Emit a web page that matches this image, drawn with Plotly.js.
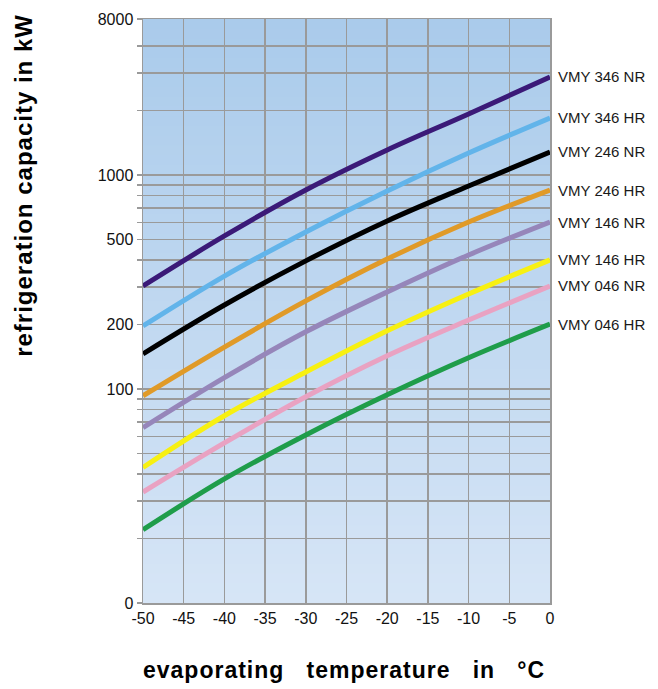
<!DOCTYPE html>
<html>
<head>
<meta charset="utf-8">
<script src="https://cdn.plot.ly/plotly-3.0.1.min.js"></script>
<style>html,body{margin:0;padding:0;background:#fff;}#chart{width:658px;height:689px;}</style>
</head>
<body>
<div id="chart"></div>
<script>
// ---- data ----
const temps = [-50, -40, -30, -20, -10, 0];
const seriesNames = ["VMY 346 NR", "VMY 346 HR", "VMY 246 NR", "VMY 246 HR",
                     "VMY 146 NR", "VMY 146 HR", "VMY 046 NR", "VMY 046 HR"];
const vmy346NR = [303, 519, 851, 1309, 1928, 2871];
const vmy346HR = [197, 337, 542, 842, 1267, 1847];
const vmy246NR = [146, 247, 397, 610, 889, 1281];
const vmy246HR = [93, 157, 258, 405, 603, 851];
const vmy146NR = [66, 113, 185, 284, 423, 603];
const vmy146HR = [43, 75, 120, 187, 278, 401];
const vmy046NR = [33, 56, 92, 143, 210, 303];
const vmy046HR = [22, 38, 61, 94, 140, 201];
const seriesValues = [vmy346NR, vmy346HR, vmy246NR, vmy246HR, vmy146NR, vmy146HR, vmy046NR, vmy046HR];

const yTop = 5358; // top edge of the chart (labelled "8000" in the original)
const yTickVals = [10,20,30,40,50,60,70,80,90,100,200,300,400,500,600,700,800,900,1000,2000,3000,4000,yTop];
const yTickText = ["0","","","","","","","","","100","200","","","500","","","","","1000","","","","8000"];
const xTickVals = [-50,-45,-40,-35,-30,-25,-20,-15,-10,-5,0];
const xTitleWords = ["evaporating", "temperature", "in", "°C"];
const yTitle = "refrigeration capacity in kW";

// ---- styles ----
const colors = ["#3b1a78", "#62b4ea", "#000000", "#e09a28", "#9686ba", "#f7f012", "#e9a2c2", "#1f9d4a"];
const FONT = "'Liberation Sans', Arial, Helvetica, sans-serif";

const traces = seriesValues.map((vals, i) => ({
  x: temps, y: vals, type: "scatter", mode: "lines",
  name: seriesNames[i],
  line: {color: colors[i], width: 5, shape: "spline", smoothing: 1},
  hoverinfo: "skip"
}));

const annotations = seriesValues.map((vals, i) => ({
  x: temps[temps.length - 1], y: Math.log10(vals[vals.length - 1]),
  xref: "x", yref: "y", text: seriesNames[i], showarrow: false,
  xanchor: "left", yanchor: "middle", xshift: 6,
  font: {family: FONT, size: 15, color: "#1a1a1a"}
}));
annotations.push({
  xref: "paper", yref: "paper", x: -0.2924, y: 0.716,
  text: '<span style="letter-spacing:1px"><b>' + yTitle + '</b></span>',
  showarrow: false, textangle: -90, xanchor: "center", yanchor: "middle",
  font: {family: FONT, size: 24, color: "#000"}
});
annotations.push({
  xref: "paper", yref: "paper", x: 0.494, y: -0.115,
  text: '<span style="letter-spacing:1px"><b>' + xTitleWords.join(" \u00a0\u00a0") + '</b></span>',
  showarrow: false, xanchor: "center", yanchor: "middle",
  font: {family: FONT, size: 23, color: "#000"}
});

// background gradient built from thin stripes
const shapes = [];
const N = 60;
const cTop = [170, 203, 235], cBot = [214, 229, 246];
for (let k = 0; k < N; k++) {
  const t = k / (N - 1);
  const c = cTop.map((a, j) => Math.round(a + (cBot[j] - a) * t));
  shapes.push({
    type: "rect", xref: "paper", yref: "paper", layer: "below",
    x0: 0, x1: 1, y0: 1 - (k + 1) / N - 0.002, y1: 1 - k / N,
    fillcolor: "rgb(" + c.join(",") + ")", line: {width: 0}
  });
}

const layout = {
  width: 658, height: 689,
  margin: {l: 143, r: 108, t: 19, b: 86},
  paper_bgcolor: "#ffffff", plot_bgcolor: "rgba(0,0,0,0)",
  showlegend: false,
  font: {family: FONT, size: 16, color: "#111"},
  xaxis: {
    range: [-50, 0], tickvals: xTickVals, ticktext: xTickVals.map(String),
    showgrid: true, gridcolor: "#9a9a9a", gridwidth: 1.5,
    zeroline: false, showline: true, linecolor: "#9a9a9a", linewidth: 1.5, mirror: true,
    ticks: "", tickfont: {family: FONT, size: 16, color: "#111"}
  },
  yaxis: {
    type: "log", range: [1, Math.log10(yTop)],
    tickvals: yTickVals, ticktext: yTickText,
    showgrid: true, gridcolor: "#9a9a9a", gridwidth: 1.5,
    zeroline: false, showline: true, linecolor: "#9a9a9a", linewidth: 1.5, mirror: true,
    ticks: "outside", ticklen: 5, tickcolor: "#9a9a9a", tickwidth: 1.5,
    tickfont: {family: FONT, size: 16, color: "#111"}
  },
  shapes: shapes,
  annotations: annotations
};

Plotly.newPlot("chart", traces, layout, {staticPlot: true, displayModeBar: false});
</script>
</body>
</html>
